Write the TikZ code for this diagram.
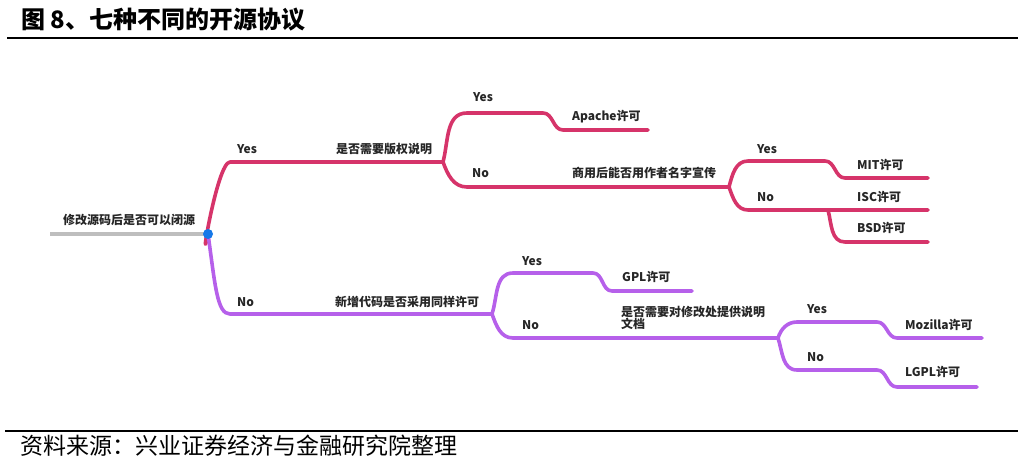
\documentclass[tikz,border=0pt]{standalone}
\usepackage{fontspec}
\setmainfont{Noto Sans CJK SC}
\usetikzlibrary{positioning}

\definecolor{redbranch}{RGB}{214,52,106}
\definecolor{purplebranch}{RGB}{182,96,234}
\definecolor{rootgray}{RGB}{190,190,190}
\definecolor{dotblue}{RGB}{22,120,232}

\begin{document}
\begin{tikzpicture}[x=1pt,y=-1pt]
\tikzset{branch/.style={line width=3.6pt,line cap=round,line join=round},
  redline/.style={branch,draw=redbranch},
  purpleline/.style={branch,draw=purplebranch},
  rootline/.style={branch,draw=rootgray,line cap=butt},
  lbl/.style={anchor=west,inner sep=0pt,font=\fontsize{12}{12}\selectfont\bfseries,text=black!85},
  rule/.style={line width=2.4pt,draw=black},
}
\useasboundingbox (0,0) rectangle (1020,465);

% heading and source
\node[anchor=west,inner sep=0pt,font=\fontsize{24}{24}\selectfont\bfseries] (title) at (21,20) {图 8、七种不同的开源协议};
\draw[rule] (7,38) -- (1018,38);
\draw[rule] (5,431) -- (1018,431);
\node[anchor=west,inner sep=0pt,font=\fontsize{23}{23}\selectfont] (source) at (20,446) {资料来源：兴业证券经济与金融研究院整理};

% junctions and ends
\coordinate (rootstart) at (50,234);
\coordinate (root) at (208,234);
\coordinate (copyq) at (230,162);
\coordinate (copyj) at (443,162);
\coordinate (apa1) at (467,113);
\coordinate (apa2) at (543,113);
\coordinate (apa3) at (563,130);
\coordinate (apaend) at (648,130);
\coordinate (nameq) at (467,187);
\coordinate (namej) at (729,187);
\coordinate (mit1) at (748,161);
\coordinate (mit2) at (825,161);
\coordinate (mit3) at (845,178);
\coordinate (mitend) at (928,178);
\coordinate (isc1) at (748,210);
\coordinate (iscend) at (928,210);
\coordinate (bsd0) at (828,210);
\coordinate (bsd1) at (845,242);
\coordinate (bsdend) at (928,242);
\coordinate (licq) at (230,314);
\coordinate (licj) at (492,314);
\coordinate (gpl1) at (513,273);
\coordinate (gpl2) at (593,273);
\coordinate (gpl3) at (612,291);
\coordinate (gplend) at (692,291);
\coordinate (docq) at (513,338);
\coordinate (docj) at (778,338);
\coordinate (moz1) at (797,322);
\coordinate (moz2) at (877,322);
\coordinate (moz3) at (897,338);
\coordinate (mozend) at (982,338);
\coordinate (lg1) at (797,370);
\coordinate (lg2) at (877,370);
\coordinate (lg3) at (897,387);
\coordinate (lgend) at (977,387);

% red part
\draw[redline] (root) .. controls +(-78:-46) and +(180:13) .. (copyq) -- (copyj);
\draw[redline] (copyj) to[out=75,in=180] (apa1) -- (apa2) to[out=0,in=180] (apa3) -- (apaend);
\draw[redline] (copyj) to[out=-70,in=180] (nameq) -- (namej);
\draw[redline] (namej) to[out=75,in=180] (mit1) -- (mit2) to[out=0,in=180] (mit3) -- (mitend);
\draw[redline] (namej) to[out=-70,in=180] (isc1) -- (iscend);
\draw[redline] (bsd0) to[out=-75,in=180] (bsd1) -- (bsdend);

% purple part
\draw[purpleline] (root) .. controls +(82:52) and +(180:13) .. (licq) -- (licj);
\draw[purpleline] (licj) to[out=72,in=180] (gpl1) -- (gpl2) to[out=0,in=180] (gpl3) -- (gplend);
\draw[purpleline] (licj) to[out=-70,in=180] (docq) -- (docj);
\draw[purpleline] (docj) to[out=72,in=180] (moz1) -- (moz2) to[out=0,in=180] (moz3) -- (mozend);
\draw[purpleline] (docj) to[out=-72,in=180] (lg1) -- (lg2) to[out=0,in=180] (lg3) -- (lgend);

\draw[rootline] (rootstart) -- (root);
\fill[dotblue] (root) circle (5pt);

% labels
\node[lbl] (closeq) at (63,220) {修改源码后是否可以闭源};
\node[lbl] (yescopy) at (237,149) {Yes};
\node[lbl] (copyqtxt) at (336,149) {是否需要版权说明};
\node[lbl] (yesapa) at (473,97) {Yes};
\node[lbl] (apache) at (572,117) {Apache许可};
\node[lbl] (noname) at (472,173) {No};
\node[lbl] (nameqtxt) at (572,173) {商用后能否用作者名字宣传};
\node[lbl] (yesmit) at (757,149) {Yes};
\node[lbl] (mit) at (857,165) {MIT许可};
\node[lbl] (noisc) at (757,197) {No};
\node[lbl] (isc) at (857,197) {ISC许可};
\node[lbl] (bsd) at (857,228) {BSD许可};
\node[lbl] (nolic) at (237,302) {No};
\node[lbl] (licqtxt) at (335,302) {新增代码是否采用同样许可};
\node[lbl] (yesgpl) at (522,261) {Yes};
\node[lbl] (gpl) at (622,277) {GPL许可};
\node[lbl] (nodoc) at (522,325) {No};
\node[lbl,align=left] (docqtxt) at (621,317.5) {是否需要对修改处提供说明\\文档};
\node[lbl] (yesmoz) at (807,309) {Yes};
\node[lbl] (mozilla) at (905,325) {Mozilla许可};
\node[lbl] (nolgpl) at (807,357) {No};
\node[lbl] (lgpl) at (905,372) {LGPL许可};
\end{tikzpicture}
\end{document}
